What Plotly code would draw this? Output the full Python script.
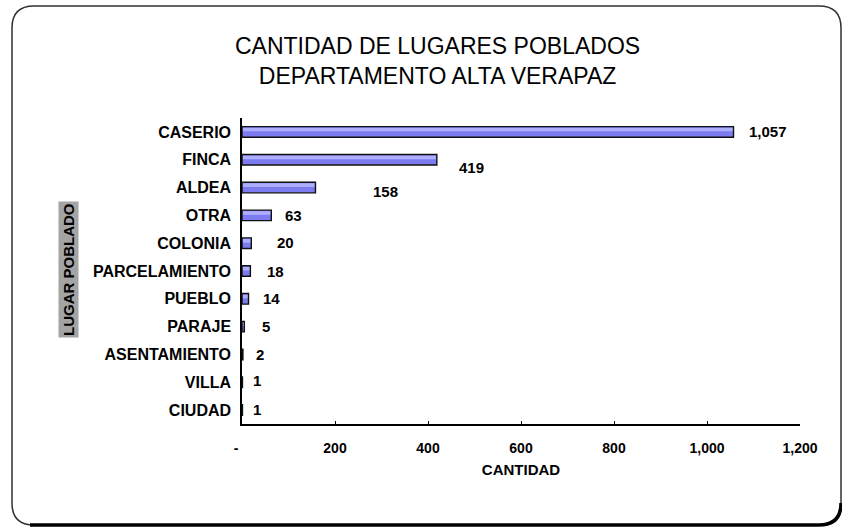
import plotly.graph_objects as go

# Data: number of populated places by type, Alta Verapaz department
categories = ["CASERIO", "FINCA", "ALDEA", "OTRA", "COLONIA", "PARCELAMIENTO",
              "PUEBLO", "PARAJE", "ASENTAMIENTO", "VILLA", "CIUDAD"]
counts = [1057, 419, 158, 63, 20, 18, 14, 5, 2, 1, 1]
x_tick_values = [0, 200, 400, 600, 800, 1000, 1200]
x_tick_labels = ["-   ", "200", "400", "600", "800", "1,000", "1,200"]

# Pixel nudges for the value labels (x, y)
label_shift_x = [34, 35, 70, 22, 34, 25, 23, 22, 17, 15, 15]
label_shift_y = [0, -8, -4, 0, 1, 0, 0, 0, 0, 2, 1]

W, H = 842, 529
L, R, T, B = 242, 42, 118, 105
PW, PH = W - L - R, H - T - B

FONT = "Liberation Sans, Arial, sans-serif"
BAR_W = 0.38


def px(x):
    return (x - L) / PW


def py(y):
    return 1 - (y - T) / PH


fig = go.Figure()
# Bar body
fig.add_trace(go.Bar(
    x=counts, y=categories, orientation="h", width=BAR_W, offset=-BAR_W / 2,
    marker=dict(color="#7c7cf0", line=dict(width=0)),
    hoverinfo="skip", showlegend=False,
))
# Light band on the upper part of each bar
fig.add_trace(go.Bar(
    x=counts, y=categories, orientation="h", width=0.13, offset=-0.15,
    marker=dict(color="#aeaeff", line=dict(width=0)),
    hoverinfo="skip", showlegend=False,
))
# Outline
fig.add_trace(go.Bar(
    x=counts, y=categories, orientation="h", width=BAR_W, offset=-BAR_W / 2,
    marker=dict(color="rgba(0,0,0,0)", line=dict(color="#101010", width=1.4)),
    hoverinfo="skip", showlegend=False,
))

annotations = []
for cat, val, dx, dy in zip(categories, counts, label_shift_x, label_shift_y):
    annotations.append(dict(
        x=val, y=cat, xref="x", yref="y", text=f"{val:,}", showarrow=False,
        xanchor="center", yanchor="middle", xshift=dx, yshift=dy,
        font=dict(family=FONT, size=15, color="black", weight="bold"),
    ))

# Title (two lines)
annotations.append(dict(
    x=px(437), y=py(61), xref="paper", yref="paper",
    text="CANTIDAD DE LUGARES POBLADOS<br>DEPARTAMENTO ALTA VERAPAZ",
    showarrow=False, xanchor="center", yanchor="middle",
    font=dict(family=FONT, size=23, color="black"),
))

# Vertical category-axis title on a grey box
annotations.append(dict(
    x=px(68), y=py(270), xref="paper", yref="paper",
    text="LUGAR POBLADO", textangle=-90, showarrow=False,
    xanchor="center", yanchor="middle", bgcolor="#a4a4a4", borderpad=1,
    font=dict(family=FONT, size=15, color="black", weight="bold"),
))

# Rounded frame around the chart
def rounded_rect(x0, y0, x1, y1, r):
    return (f"M {px(x0 + r)},{py(y0)} L {px(x1 - r)},{py(y0)} "
            f"Q {px(x1)},{py(y0)} {px(x1)},{py(y0 + r)} "
            f"L {px(x1)},{py(y1 - r)} Q {px(x1)},{py(y1)} {px(x1 - r)},{py(y1)} "
            f"L {px(x0 + r)},{py(y1)} Q {px(x0)},{py(y1)} {px(x0)},{py(y1 - r)} "
            f"L {px(x0)},{py(y0 + r)} Q {px(x0)},{py(y0)} {px(x0 + r)},{py(y0)} Z")


shapes = [
    dict(type="path", xref="paper", yref="paper", layer="below",
         path=rounded_rect(12, 6, 841, 525, 22),
         line=dict(color="#303030", width=1.5)),
    dict(type="path", xref="paper", yref="paper",
         path=(f"M {px(30)},{py(525)} L {px(819)},{py(525)} "
               f"Q {px(841)},{py(525)} {px(841)},{py(503)}"),
         line=dict(color="black", width=3.5)),
]

fig.update_layout(
    width=W, height=H,
    margin=dict(l=L, r=R, t=T, b=B, pad=0),
    paper_bgcolor="white", plot_bgcolor="white",
    annotations=annotations, shapes=shapes,
    barmode="overlay",
    xaxis=dict(
        range=[0, 1200], tickvals=x_tick_values, ticktext=x_tick_labels,
        showgrid=False, zeroline=False, showline=True, linecolor="black",
        linewidth=1.5, ticks="inside", ticklen=3, tickcolor="black",
        ticklabelstandoff=10,
        tickfont=dict(family=FONT, size=14, color="black", weight="bold"),
        title=dict(text="CANTIDAD", standoff=10,
                   font=dict(family=FONT, size=15, color="black", weight="bold")),
    ),
    yaxis=dict(
        categoryorder="array", categoryarray=categories, autorange="reversed",
        showgrid=False, zeroline=False, showline=True, linecolor="black",
        linewidth=1.5, ticks="", ticklabelstandoff=6,
        tickfont=dict(family=FONT, size=16, color="black", weight="bold"),
    ),
)

fig.write_html("out.html")
